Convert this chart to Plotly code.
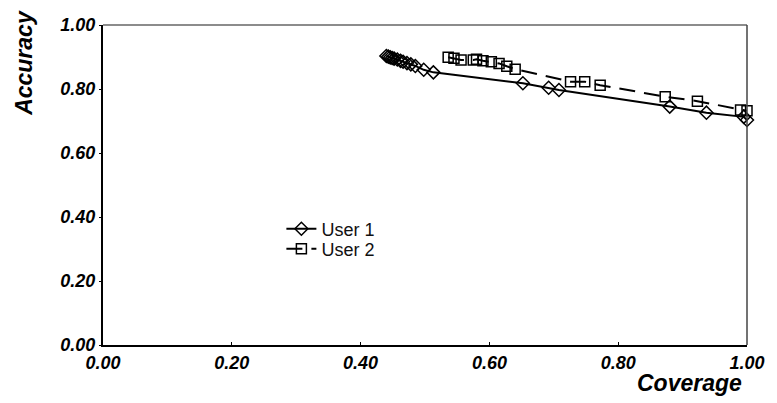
import plotly.graph_objects as go

# User 1 (diamonds)
user1_cov = [0.440, 0.443, 0.446, 0.449, 0.452, 0.457, 0.462, 0.466, 0.472, 0.478, 0.485,
             0.498, 0.513, 0.652, 0.692, 0.708, 0.880, 0.937, 0.995, 1.000]
user1_acc = [0.903, 0.901, 0.899, 0.897, 0.895, 0.892, 0.888, 0.885, 0.881, 0.877, 0.872,
             0.860, 0.852, 0.818, 0.804, 0.797, 0.745, 0.726, 0.713, 0.703]

# User 2 (squares)
user2_cov = [0.536, 0.545, 0.556, 0.575, 0.580, 0.590, 0.603, 0.615, 0.627, 0.640,
             0.726, 0.748, 0.772, 0.873, 0.923, 0.990, 1.000]
user2_acc = [0.899, 0.896, 0.891, 0.891, 0.893, 0.888, 0.885, 0.880, 0.871, 0.862,
             0.823, 0.823, 0.812, 0.776, 0.762, 0.734, 0.732]

tick_vals = [0.0, 0.2, 0.4, 0.6, 0.8, 1.0]
tick_text = ["0.00", "0.20", "0.40", "0.60", "0.80", "1.00"]

FONT = "Liberation Sans, Arial, sans-serif"

fig = go.Figure()
fig.add_trace(go.Scatter(
    x=user1_cov, y=user1_acc, name="User 1", mode="lines+markers", legend="legend",
    showlegend=True,
    line=dict(color="black", width=2), cliponaxis=False,
    marker=dict(symbol="diamond-open", size=10, color="black", line=dict(width=1.5, color="black")),
))
fig.add_trace(go.Scatter(
    x=user2_cov, y=user2_acc, name="User 2", mode="lines+markers", legend="legend2",
    showlegend=True,
    line=dict(color="black", width=2, dash="16px,9px"), cliponaxis=False,
    marker=dict(symbol="square-open", size=10, color="black", line=dict(width=1.5, color="black")),
))

tickfont = dict(family=FONT, size=18, color="black", weight="bold", style="italic")

fig.update_xaxes(
    range=[0, 1], tickvals=tick_vals, ticktext=tick_text, tickfont=tickfont,
    showline=True, linecolor="black", linewidth=2, showgrid=False, zeroline=False,
    ticks="inside", ticklen=3, tickcolor="black", tickwidth=1,
)
fig.update_yaxes(
    range=[0, 1], tickvals=tick_vals, ticktext=tick_text, tickfont=tickfont,
    showline=True, linecolor="black", linewidth=2, showgrid=False, zeroline=False,
    ticks="outside", ticklen=2, tickcolor="black", tickwidth=1,
)

legend_style = dict(
    xanchor="left", yanchor="middle", bgcolor="rgba(0,0,0,0)",
    font=dict(family=FONT, size=18, color="#111"), itemwidth=30, visible=True,
)

fig.update_layout(
    width=777, height=403,
    margin=dict(l=103, r=24, t=25, b=58),
    paper_bgcolor="white", plot_bgcolor="white",
    showlegend=True,
    font=dict(family=FONT, color="black"),
    legend=dict(x=0.277, y=0.3625, **legend_style),
    legend2=dict(x=0.277, y=0.30, **legend_style),
    shapes=[
        dict(type="line", xref="paper", yref="paper", x0=0, x1=1, y0=1, y1=1,
             line=dict(color="#666666", width=1.5)),
        dict(type="line", xref="paper", yref="paper", x0=1, x1=1, y0=0, y1=1,
             line=dict(color="#444444", width=1.5)),
    ],
    annotations=[
        dict(text="Accuracy", xref="paper", yref="paper", x=-0.123, y=0.881,
             xanchor="center", yanchor="middle", textangle=-90, showarrow=False,
             font=dict(family=FONT, size=23, color="black", weight="bold", style="italic")),
        dict(text="Coverage", xref="paper", yref="paper", x=0.995, y=-0.119,
             xanchor="right", yanchor="middle", showarrow=False,
             font=dict(family=FONT, size=23, color="black", weight="bold", style="italic")),
    ],
)

fig.write_html("out.html")
